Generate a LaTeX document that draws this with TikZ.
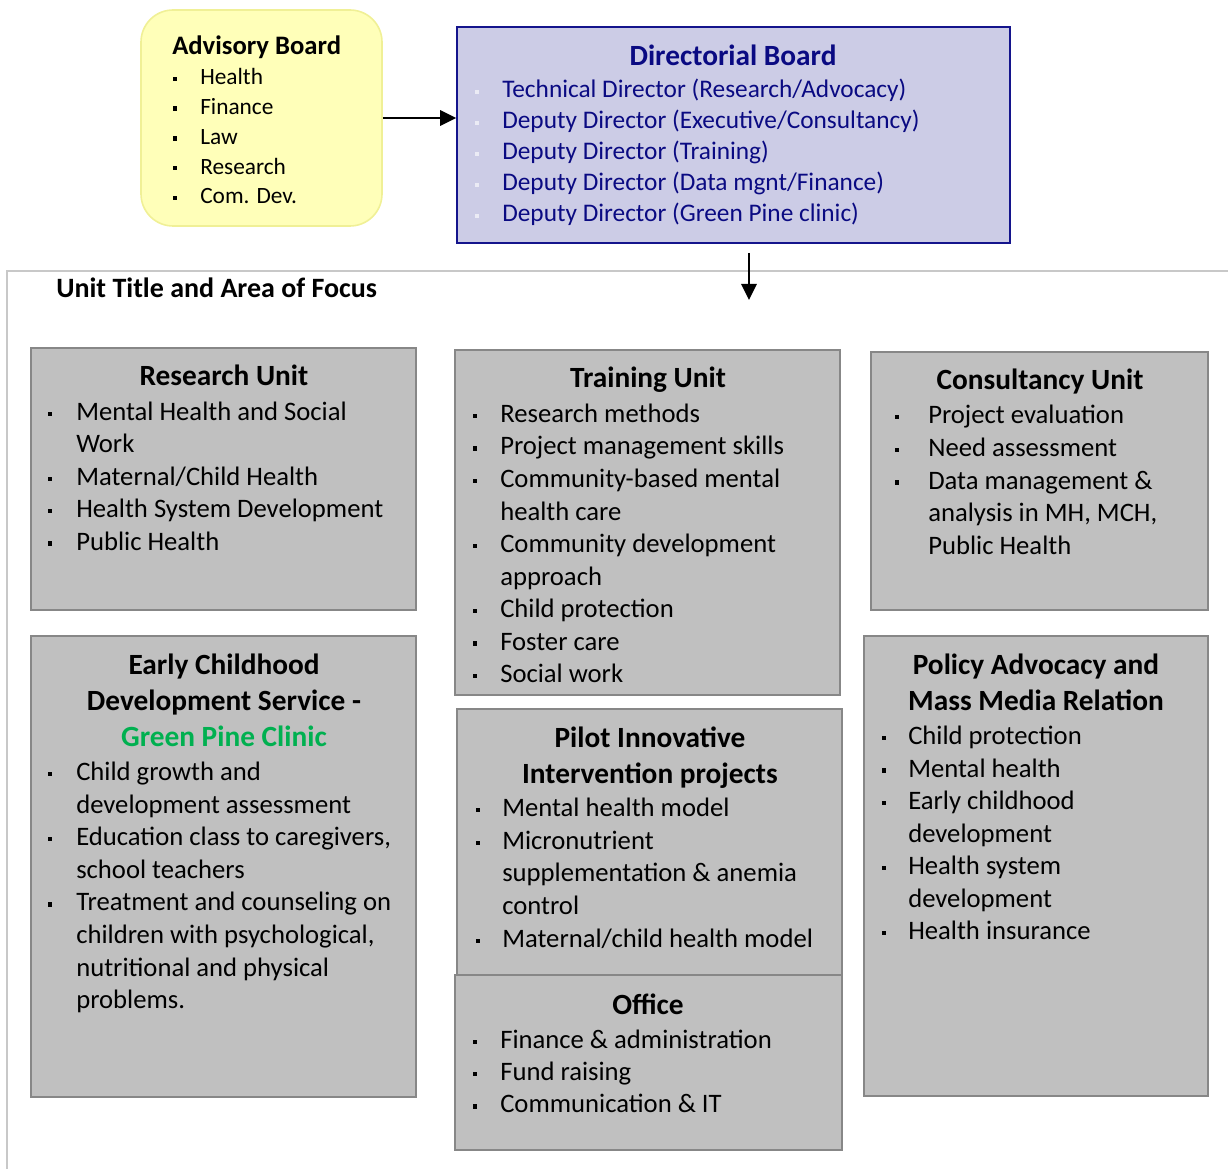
\documentclass[tikz,border=0pt]{standalone}
\usepackage{fontspec}
\setmainfont{Carlito}
\usetikzlibrary{arrows.meta,fit}
\definecolor{unitfill}{RGB}{192,192,192}
\definecolor{unitline}{RGB}{135,135,135}
\definecolor{dirfill}{RGB}{204,204,230}
\definecolor{dirline}{RGB}{20,20,140}
\definecolor{dirtext}{RGB}{10,10,130}
\definecolor{dirbullet}{RGB}{235,235,245}
\definecolor{advfill}{RGB}{255,255,185}
\definecolor{advline}{RGB}{240,240,150}
\definecolor{framecol}{RGB}{200,200,200}
\definecolor{pinegreen}{RGB}{0,176,80}
\newcommand\blist[9]{%
  \foreach \b/\t [count=\i] in {#9} {%
    \pgfmathsetmacro\yy{#5+(\i-1)*#6}
    \node[#2] (#1\i) at (#4,\yy) {\t};
    \ifnum\b=1
      \fill[#8] ({#3-2.2},{\yy-#7-2.2}) rectangle ({#3+2.2},{\yy-#7+2.2});
    \fi
  }%
}
\begin{document}
\begin{tikzpicture}[x=0.75pt,y=-0.75pt,
  unitbox/.style={draw=unitline,line width=1.6pt,fill=unitfill,inner sep=0pt},
  body/.style={font=\fontsize{20}{24}\selectfont,inner sep=0pt,anchor=base west},
  ttl/.style={font=\bfseries\fontsize{22}{26}\selectfont,inner sep=0pt,anchor=base},
  dirbody/.style={font=\fontsize{19}{23}\selectfont,text=dirtext,inner sep=0pt,anchor=base west},
  advbody/.style={font=\fontsize{17.5}{21}\selectfont,inner sep=0pt,anchor=base west},
  arr/.style={line width=1.5pt,-{Triangle[length=12pt,width=11.5pt]}}]
\useasboundingbox (0,0) rectangle (1228,1169);

% frame
\draw[framecol,line width=1.5pt] (7,1169) -- (7,271) -- (1228,271);
\node[font=\bfseries\fontsize{21}{25}\selectfont,inner sep=0pt,anchor=base west] (unittitle) at (56,298) {Unit Title and Area of Focus};

% advisory board
\node[draw=advline,fill=advfill,line width=1.2pt,rounded corners=24pt,inner sep=0pt,fit={(141,10) (382,226)}] (adv) {};
\node[font=\bfseries\fontsize{20}{24}\selectfont,inner sep=0pt,anchor=base west] (advt) at (172,55) {Advisory Board};
\blist{ad}{advbody}{175}{200}{85}{29.7}{6}{black}{1/Health,1/Finance,1/Law,1/Research,1/Com. Dev.}

% directorial board
\node[draw=dirline,fill=dirfill,line width=1.3pt,inner sep=0pt,fit={(457,27) (1010,243)}] (dir) {};
\node[font=\bfseries\fontsize{22}{26}\selectfont,text=dirtext,inner sep=0pt,anchor=base] (dirt) at (733,66) {Directorial Board};
\blist{di}{dirbody}{477}{502}{98}{31}{6}{dirbullet}{1/{Technical Director (Research/Advocacy)},1/{Deputy Director (Executive/Consultancy)},1/{Deputy Director (Training)},1/{Deputy Director (Data mgnt/Finance)},1/{Deputy Director (Green Pine clinic)}}

% arrows
\draw[arr] (adv.east) -- (adv.east -| dir.west);
\coordinate (a2s) at (749,253);
\coordinate (a2e) at (749,300);
\draw[arr] (a2s) -- (a2e);

% research unit
\node[unitbox,fit={(31,348) (416,610)}] (research) {};
\node[ttl] (researcht) at (224,386) {Research Unit};
\blist{re}{body}{50}{76}{420.5}{32.4}{6.5}{black}{1/Mental Health and Social,0/Work,1/{Maternal/Child Health},1/Health System Development,1/Public Health}

% training unit
\node[unitbox,fit={(455,350) (840,695)}] (training) {};
\node[ttl] (trainingt) at (648,388) {Training Unit};
\blist{tr}{body}{475}{500}{422.5}{32.5}{6.5}{black}{1/Research methods,1/Project management skills,1/Community-based mental,0/health care,1/Community development,0/approach,1/Child protection,1/Foster care,1/Social work}

% consultancy unit
\node[unitbox,fit={(871,352) (1208,610)}] (consult) {};
\node[ttl] (consultt) at (1040,390) {Consultancy Unit};
\blist{co}{body}{897}{928}{423.5}{32.8}{6.5}{black}{1/Project evaluation,1/Need assessment,1/Data management \&,0/{analysis in MH, MCH,},0/Public Health}

% early childhood
\node[unitbox,fit={(31,636) (416,1097)}] (ecd) {};
\node[ttl] (ecdt1) at (224,674) {Early Childhood};
\node[ttl] (ecdt2) at (224,710) {Development Service -};
\node[ttl,text=pinegreen] (ecdt3) at (224,746) {Green Pine Clinic};
\blist{ec}{body}{50}{76}{780.5}{32.6}{6.5}{black}{1/Child growth and,0/development assessment,1/{Education class to caregivers,},0/school teachers,1/Treatment and counseling on,0/{children with psychological,},0/nutritional and physical,0/problems.}

% pilot
\node[unitbox,fit={(457,709) (842,975)}] (pilot) {};
\node[ttl] (pilott1) at (650,747) {Pilot Innovative};
\node[ttl] (pilott2) at (650,783) {Intervention projects};
\blist{pi}{body}{478}{502}{816.5}{32.7}{6.5}{black}{1/Mental health model,1/Micronutrient,0/supplementation \& anemia,0/control,1/{Maternal/child health model}}

% office
\node[unitbox,fit={(455,975) (842,1150)}] (office) {};
\node[ttl] (officet) at (648,1014) {Office};
\blist{of}{body}{475}{500}{1048.5}{32.2}{6.5}{black}{1/Finance \& administration,1/Fund raising,1/Communication \& IT}

% policy advocacy
\node[unitbox,fit={(864,636) (1208,1096)}] (policy) {};
\node[ttl] (policyt1) at (1036,674) {Policy Advocacy and};
\node[ttl] (policyt2) at (1036,710) {Mass Media Relation};
\blist{po}{body}{884}{908}{744.5}{32.5}{6.5}{black}{1/Child protection,1/Mental health,1/Early childhood,0/development,1/Health system,0/development,1/Health insurance}
\end{tikzpicture}
\end{document}
